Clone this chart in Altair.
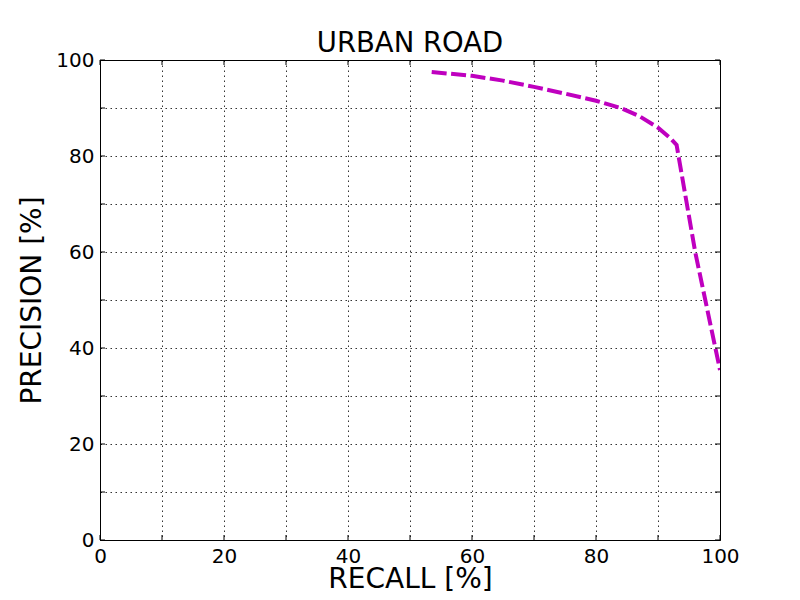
import altair as alt
import pandas as pd

recall = [53.5, 60.0, 65.0, 70.0, 75.0, 80.0, 84.0, 87.0, 90.0, 92.0, 93.0, 96.0, 100.0]
precision = [97.5, 96.7, 95.7, 94.4, 93.0, 91.5, 90.0, 88.3, 85.9, 83.7, 82.3, 60.0, 35.4]
tick_vals = [0, 10, 20, 30, 40, 50, 60, 70, 80, 90, 100]

FONT = "DejaVu Sans"
df = pd.DataFrame({"recall": recall, "precision": precision})
ticks = pd.DataFrame({"t": tick_vals})

xs = alt.Scale(domain=[0, 100], nice=False, zero=False)
ys = alt.Scale(domain=[0, 100], nice=False, zero=False)

label_expr = "datum.value % 20 == 0 ? datum.label : ''"

line = alt.Chart(df).mark_line(
    color="#bf00bf", strokeWidth=4, strokeDash=[15, 4.5], strokeCap="butt", clip=True
).encode(
    x=alt.X("recall:Q", scale=xs, axis=alt.Axis(
        title="RECALL [%]", values=tick_vals, labelExpr=label_expr, format="d",
        grid=True, ticks=False, labelPadding=6,
        titleBaseline="alphabetic", titleY=47)),
    y=alt.Y("precision:Q", scale=ys, axis=alt.Axis(
        title="PRECISION [%]", values=tick_vals, labelExpr=label_expr, format="d",
        grid=True, ticks=False, labelPadding=6, titlePadding=9)),
)

tick_len = 5
bottom = alt.Chart(ticks).mark_rule(color="black", strokeWidth=1).encode(
    x=alt.X("t:Q", scale=xs), y=alt.value(480), y2=alt.value(480 - tick_len))
top = alt.Chart(ticks).mark_rule(color="black", strokeWidth=1).encode(
    x=alt.X("t:Q", scale=xs), y=alt.value(0), y2=alt.value(tick_len))
left = alt.Chart(ticks).mark_rule(color="black", strokeWidth=1).encode(
    y=alt.Y("t:Q", scale=ys), x=alt.value(0), x2=alt.value(tick_len))
right = alt.Chart(ticks).mark_rule(color="black", strokeWidth=1).encode(
    y=alt.Y("t:Q", scale=ys), x=alt.value(620), x2=alt.value(620 - tick_len))

chart = alt.layer(line, bottom, top, left, right).properties(
    width=620, height=480,
    background="white",
    title=alt.TitleParams("URBAN ROAD", font=FONT, fontSize=27.5, fontWeight="normal",
                          color="black", offset=6, dy=13, anchor="middle"),
    autosize=alt.AutoSizeParams(type="none"),
    padding={"left": 92, "top": 52, "right": 72, "bottom": 52},
).configure_view(
    stroke="black", strokeWidth=1
).configure_axis(
    labelFont=FONT, labelFontSize=20, labelColor="black",
    titleFont=FONT, titleFontSize=28, titleFontWeight="normal", titleColor="black",
    domainColor="black", domainWidth=1,
    gridColor="black", gridOpacity=0.8, gridWidth=1, gridDash=[1.5, 3.5],
    labelFlush=False,
)

chart.save("out.html", embed_options={"renderer": "svg", "actions": False})
